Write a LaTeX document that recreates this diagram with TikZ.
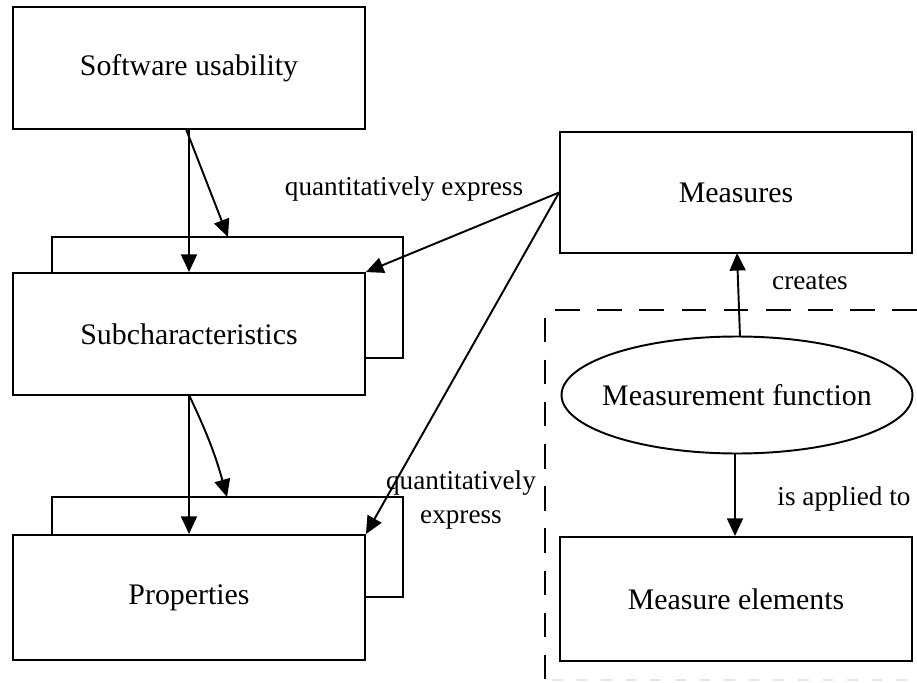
\documentclass[tikz,border=0pt]{standalone}
\usepackage{fontspec}
\setmainfont{Liberation Serif}
\usetikzlibrary{arrows.meta, positioning, shapes.geometric}

\begin{document}
\begin{tikzpicture}[
    x=0.02cm, y=-0.02cm,
    blk/.style={draw, line width=1.1pt, inner sep=0pt, align=center,
                minimum width=7.04cm, font=\fontsize{17}{20}\selectfont},
    backblk/.style={draw, line width=1.1pt, inner sep=0pt, minimum width=7.02cm},
    arr/.style={-{Triangle[length=10pt, width=9pt]}, line width=1.1pt},
    lbl/.style={font=\fontsize{15.5}{18}\selectfont, align=center},
    frame/.style={line width=1.1pt, dash pattern=on 14pt off 10pt}
]
\useasboundingbox (0,0) rectangle (917,683);

% ---- left column ----
\node[blk, minimum height=2.44cm] (usab) at (189, 68) {Software usability};

\node[backblk, minimum height=2.42cm] (subback) at (227.5, 297.5) {};
\node[blk, fill=white, minimum height=2.44cm] (sub) at (189, 334) {Subcharacteristics};

\node[backblk, minimum height=2.0cm] (propback) at (227.5, 547) {};
\node[blk, fill=white, minimum height=2.5cm] (prop) at (189, 597.5) {Properties};

% ---- right column ----
\node[blk, minimum height=2.42cm] (meas) at (736, 192.5) {Measures};
\node[blk, ellipse, minimum width=7.02cm, minimum height=2.34cm, inner xsep=-0.25cm] (func) at (737, 395) {Measurement function};
\node[blk, minimum height=2.48cm] (elem) at (736, 599) {Measure elements};

% ---- boundary of measurement ----
\coordinate (fcorner) at (545, 310);
\coordinate (fright) at (917, 310);
\coordinate (fbottom) at (545, 683);
\draw[frame] (fright) -- (fcorner) -- (fbottom);
\draw[gray!20, line width=0.6pt, dash pattern=on 6pt off 8pt] (552, 680) -- (917, 680);

% ---- arrows ----
\coordinate (u1) at (189, 129);
\coordinate (u2) at (186, 129);
\coordinate (s1) at (189, 395);
\draw[arr] (u1) -- (u1 |- sub.north);
\draw[arr] (u2) -- (228, 237);
\draw[arr] (s1) -- (s1 |- prop.north);
\draw[arr] (s1) to[bend left=5] (227, 497);

\draw[arr] (meas.west) -- (sub.north east);
\draw[arr] (meas.west) -- (prop.north east);
\node[lbl] (qe1) at (404, 189) {quantitatively express};
\node[lbl, font=\fontsize{15.5}{19}\selectfont] (qe2) at (461, 500) {quantitatively\\express};

\coordinate (f1) at (740, 336.5);
\coordinate (f2) at (735, 453);
\draw[arr] (f1) -- (737, 253);
\node[lbl] (cr) at (810, 282) {creates};
\draw[arr] (f2) -- (f2 |- elem.north);
\node[lbl] (ap) at (844, 499) {is applied to};

\end{tikzpicture}
\end{document}
